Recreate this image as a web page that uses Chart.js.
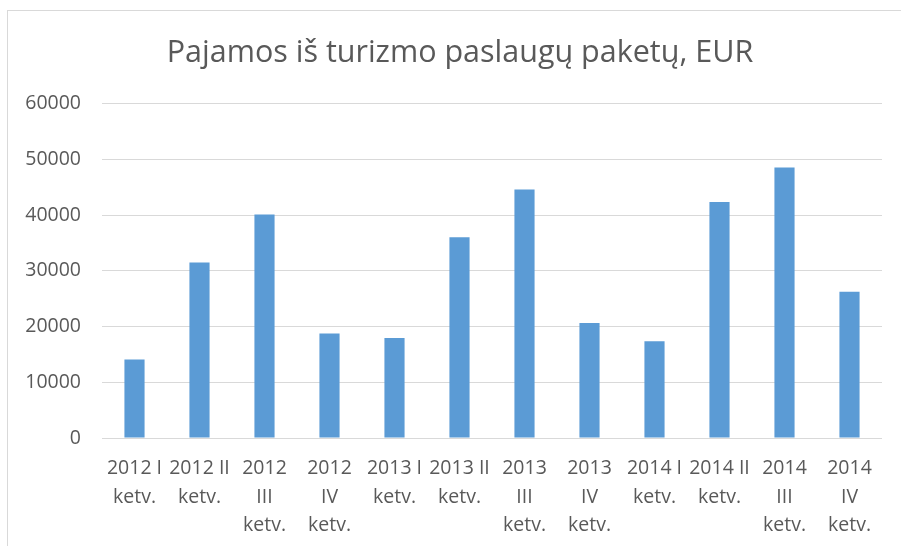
<!DOCTYPE html>
<html lang="lt">
<head>
    <meta charset="UTF-8">
    <title>Pajamos iš turizmo paslaugų paketų, EUR</title>
    <script src="https://cdn.jsdelivr.net/npm/chart.js"></script>
    <style>
        body { margin: 0; background: #fff; }
        .wrap { position: relative; width: 901px; height: 546px; }
        .frame {
            position: absolute; left: 7px; top: 10px; right: -5px; bottom: -5px;
            border-top: 1px solid #d9d9d9; border-left: 1px solid #d9d9d9;
        }
        canvas { position: absolute; left: 0; top: 0; }
    </style>
</head>
<body>
<div class="wrap">
    <div class="frame"></div>
    <canvas id="myChart" width="901" height="546"></canvas>
</div>
<script>
    const chartTitle = 'Pajamos iš turizmo paslaugų paketų, EUR';
    const quarterLabels = [
        ['2012 I', 'ketv.'], ['2012 II', 'ketv.'], ['2012', 'III', 'ketv.'], ['2012', 'IV', 'ketv.'],
        ['2013 I', 'ketv.'], ['2013 II', 'ketv.'], ['2013', 'III', 'ketv.'], ['2013', 'IV', 'ketv.'],
        ['2014 I', 'ketv.'], ['2014 II', 'ketv.'], ['2014', 'III', 'ketv.'], ['2014', 'IV', 'ketv.']
    ];
    const revenue = [14100, 31500, 40100, 18750, 17950, 36000, 44600, 20650, 17350, 42350, 48550, 26250];
    const yTicks = [0, 10000, 20000, 30000, 40000, 50000, 60000];

    const textColor = '#595959';
    const gridColor = '#d9d9d9';
    const font = "'Open Sans', sans-serif";

    // the original title is centred on the whole frame, not on the padded box
    const shiftTitle = {
        id: 'shiftTitle',
        afterLayout(chart) {
            const t = chart.titleBlock;
            if (t) { t.left += 19; t.right += 19; }
        }
    };

    const ctx = document.getElementById('myChart').getContext('2d');
    new Chart(ctx, {
        type: 'bar',
        data: {
            labels: quarterLabels,
            datasets: [{
                label: chartTitle,
                data: revenue,
                backgroundColor: '#5b9bd5',
                borderWidth: 0,
                barPercentage: 0.31,
                categoryPercentage: 1
            }]
        },
        options: {
            responsive: false,
            animation: false,
            layout: { padding: { left: 0, right: 19, top: 0, bottom: 0 } },
            plugins: {
                legend: { display: false },
                tooltip: { enabled: false },
                title: {
                    display: true,
                    text: chartTitle,
                    color: textColor,
                    font: { family: font, size: 30.5, weight: 'normal', lineHeight: 1.2 },
                    padding: { top: 35, bottom: 32 }
                }
            },
            scales: {
                x: {
                    grid: { display: false },
                    border: { display: false },
                    ticks: {
                        color: textColor,
                        font: { family: font, size: 19.5, lineHeight: 1.47 },
                        maxRotation: 0,
                        autoSkip: false,
                        padding: 8
                    },
                    afterFit: s => { s.height = 108; }
                },
                y: {
                    min: yTicks[0],
                    max: yTicks[yTicks.length - 1],
                    grid: { color: gridColor, lineWidth: 1, drawTicks: false },
                    border: { display: false },
                    afterBuildTicks: s => { s.ticks = yTicks.map(v => ({ value: v })); },
                    ticks: {
                        color: textColor,
                        font: { family: font, size: 19.5 },
                        padding: 21,
                        callback: v => String(v)
                    },
                    afterFit: s => { s.width = 102; }
                }
            }
        },
        plugins: [shiftTitle]
    });
</script>
</body>
</html>
